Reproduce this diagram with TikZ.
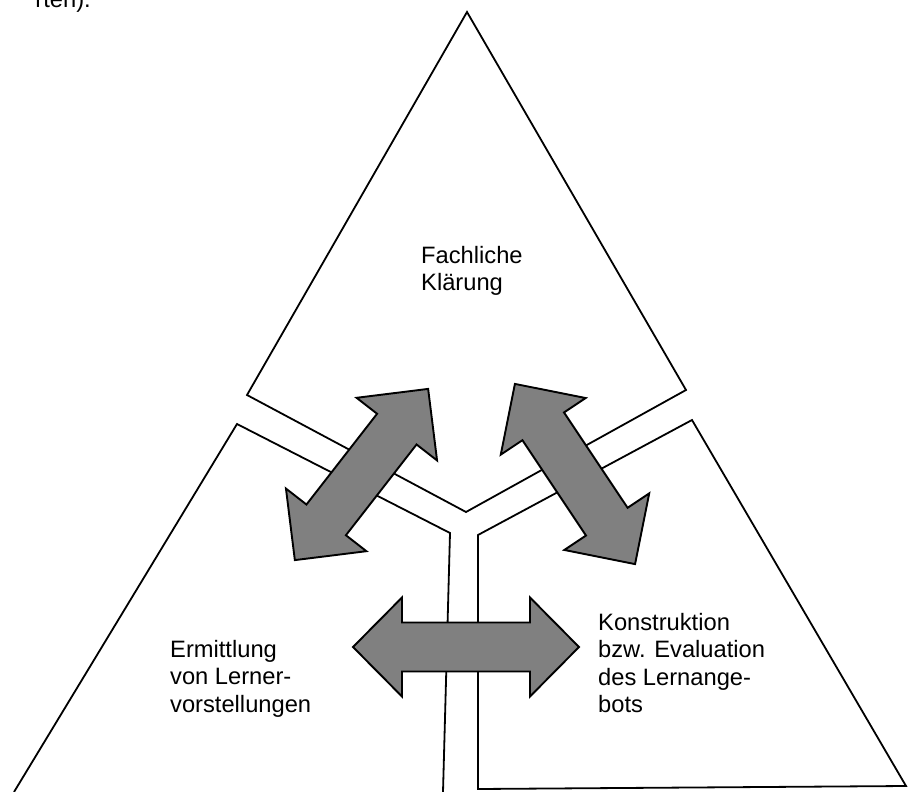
\documentclass[tikz,border=0pt]{standalone}
\usepackage{fontspec}
\setmainfont{Liberation Sans}
\begin{document}
\begin{tikzpicture}[x=1pt,y=-1pt,
  region/.style={draw=black, line width=1.8pt, line join=miter},
  arrowshape/.style={draw=black, fill=arrowgray, line width=1.9pt, line join=miter},
  lbl/.style={inner sep=0pt, align=left, font=\fontsize{23.7}{27.5}\selectfont},
  pics/dblarrow/.style n args={4}{code={
    \draw[arrowshape] (-#1,0) -- (-#1+#2,#3) -- (-#1+#2,#4) -- (#1-#2,#4) -- (#1-#2,#3)
      -- (#1,0) -- (#1-#2,-#3) -- (#1-#2,-#4) -- (-#1+#2,-#4) -- (-#1+#2,-#3) -- cycle;
  }}]
\definecolor{arrowgray}{RGB}{128,128,128}
\useasboundingbox (0,0) rectangle (913,792);
% fragment of text from the page above
\node[lbl, anchor=base east] (frag) at (91,8) {rten).};
% top region
\draw[region] (467,12) coordinate (topA) -- (686,390) coordinate (topR)
  -- (466,512) coordinate (topB) -- (247,395) coordinate (topL) -- cycle;
% left region
\draw[region] (14,792) coordinate (leftB) -- (237,424) coordinate (leftA)
  -- (450,533) coordinate (leftC) -- (443,792) coordinate (leftD);
% right region
\draw[region] (692,420) coordinate (rightA) -- (906,786) coordinate (rightB)
  -- (478,789) coordinate (rightC) -- (478,535) coordinate (rightD) -- cycle;
% arrows
\pic[rotate=52.1] (arrL) at (361.5,474.5) {dblarrow={108.5}{51}{51}{25}};
\pic[rotate=-56.3] (arrR) at (575,474) {dblarrow={108.3}{51}{51}{25}};
\pic (arrH) at (466,647) {dblarrow={113}{49}{49.5}{24.5}};
% labels (base anchor = baseline of the last line)
\node[lbl, anchor=base west] (fach) at (421,290.5) {Fachliche\\Klärung};
\node[lbl, anchor=base west] (ermit) at (170,712) {Ermittlung\\von Lerner-\\vorstellungen};
\node[lbl, anchor=base west] (konst) at (598,712.5) {Konstruktion\\bzw. Evaluation\\des Lernange-\\bots};
\end{tikzpicture}
\end{document}
